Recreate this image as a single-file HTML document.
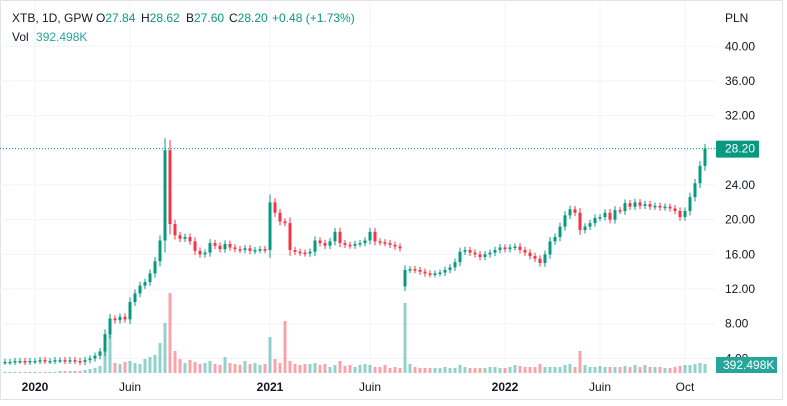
<!DOCTYPE html>
<html><head><meta charset="utf-8"><style>
body{margin:0;background:#fff;}
svg{display:block;font-family:"Liberation Sans",sans-serif;}
</style></head><body>
<svg id="chart" width="787" height="406">
<rect x="0" y="0" width="787" height="406" fill="#fff"/>
<rect x="0.5" y="0.5" width="782" height="399" fill="none" stroke="#e0e3eb"/>
<g id="grid"></g>
<g id="vol"></g>
<g id="candles"></g>
<g id="axes"></g>
<g font-size="12">
<text x="12" y="22" fill="#131722">XTB, 1D, GPW</text>
<text x="96" y="22" fill="#131722">O<tspan fill="#089981">27.84</tspan></text>
<text x="141" y="22" fill="#131722">H<tspan fill="#089981">28.62</tspan></text>
<text x="186" y="22" fill="#131722">B<tspan fill="#089981">27.60</tspan></text>
<text x="229" y="22" fill="#131722">C<tspan fill="#089981">28.20</tspan></text>
<text x="272" y="22" fill="#089981">+0.48 (+1.73%)</text>
<text x="12" y="41" fill="#131722">Vol <tspan fill="#26a69a" dx="4">392.498K</tspan></text>
</g>
<text x="725" y="22" font-size="12" fill="#131722">PLN</text>
</svg>
<script>
const closes=[3.6,3.6,3.7,3.7,3.6,3.7,3.7,3.8,3.7,3.7,3.8,3.8,3.7,3.8,3.7,3.6,3.8,4.0,4.3,4.8,6.8,8.6,8.4,8.8,8.5,10.5,11.5,12.4,12.8,13.8,15.2,17.6,28.0,19.5,18.2,17.8,18.0,17.5,16.4,16.0,16.2,17.3,17.0,16.6,17.2,16.8,16.6,16.5,16.7,16.4,16.5,16.6,16.5,22.0,20.8,19.8,19.6,16.5,16.3,16.2,16.1,16.3,17.6,17.3,17.0,17.5,18.6,17.3,17.1,17.0,17.2,17.3,17.6,18.6,17.5,17.4,17.3,17.1,16.9,16.7,14.2,14.3,14.2,14.0,13.8,13.7,13.8,13.9,14.2,14.5,15.1,16.3,16.5,16.2,16.0,15.7,16.0,16.2,16.5,16.8,16.6,16.8,16.9,16.5,16.2,15.8,15.5,15.0,16.0,17.5,18.0,19.2,20.5,21.2,20.8,18.8,19.2,19.6,20.2,20.3,20.8,20.0,21.1,21.0,21.9,21.5,22.0,21.6,21.8,21.5,21.6,21.4,21.5,21.3,21.0,20.3,21.0,22.6,24.2,26.2,28.2];
const gapIndex=[80];
const gapOpen=[12.3];
const volumes=[1,1,1,1,1,1,1,1,1,1,1,2,2,2,2,2,3,4,5,7,26,40,10,9,11,12,10,9,14,16,18,30,50,80,22,14,10,13,11,9,10,12,9,8,16,10,9,8,12,9,10,8,9,36,14,10,52,12,9,8,9,9,10,8,9,6,8,12,7,8,6,8,9,8,6,6,8,5,6,5,70,9,6,5,5,5,5,5,6,5,5,8,6,5,5,5,5,6,6,5,5,6,8,7,6,6,6,9,6,6,6,6,8,9,6,22,8,6,6,7,6,6,6,6,7,6,8,6,8,6,6,6,5,5,6,7,8,8,9,10,9];
const yTicks=[40,36,32,28,24,20,16,12,8,4];
const timeLabels=["2020","Juin","2021","Juin","2022","Juin","Oct"];
const timeLabelIdx=[6,25,54,73,100,119,136];
const timeBold=[true,false,true,false,true,false,false];
const lastPrice=28.20;
const NS="http://www.w3.org/2000/svg";
function y(p){return 185+(24-p)*8.67;}
function x(i){return 5+i*5;}
function vy(v){return 373-v;}
function mk(tag,attrs,parent){const e=document.createElementNS(NS,tag);for(const k in attrs)e.setAttribute(k,attrs[k]);parent.appendChild(e);return e;}
const grid=document.getElementById('grid'),axes=document.getElementById('axes'),cg=document.getElementById('candles'),vg=document.getElementById('vol');
yTicks.forEach(t=>{
 const l=mk('line',{x1:0,x2:715,y1:y(t),y2:y(t),stroke:'#f0f3fa'},grid);
 
 
 const tx=mk('text',{x:725,y:y(t)+4,'font-size':12,fill:'#131722'},axes);
 tx.textContent=t.toFixed(2);
 
 
});
timeLabels.forEach((s,k)=>{
 const xx=x(timeLabelIdx[k])+(k===2?-5:0);
 const l=mk('line',{x1:xx,x2:xx,y1:0,y2:374,stroke:'#f0f3fa'},grid);
 
 
 const tx=mk('text',{x:xx,y:391,'font-size':12,fill:'#131722','text-anchor':'middle','font-weight':timeBold[k]?'bold':'normal'},axes);
 tx.textContent=s;
 
 
});
closes.forEach((c,i)=>{
 const gi=gapIndex.indexOf(i);
 const o=gi>=0?gapOpen[gi]:(i?closes[i-1]:c);
 const up=c>=o;
 const col=up?'#089981':'#f23645';
 const v=mk('rect',{x:x(i)-1.5,y:vy(volumes[i]),width:3,height:volumes[i],fill:up?'rgba(38,166,154,0.5)':'rgba(242,54,69,0.45)'},vg);
 
 
 const hi=Math.max(o,c)+0.35+Math.abs(c-o)*0.1, lo=Math.min(o,c)-0.35-Math.abs(c-o)*0.1;
 const w=mk('line',{x1:x(i),x2:x(i),y1:y(hi),y2:y(lo),stroke:col,'stroke-width':1},cg);
 
 
 const top=y(Math.max(o,c)),h=Math.max(1.5,y(Math.min(o,c))-top);
 const b=mk('rect',{x:x(i)-1.5,y:top,width:3,height:h,fill:col},cg);
 
 
});
const pl=mk('line',{x1:0,x2:715,y1:y(lastPrice),y2:y(lastPrice),stroke:'#089981','stroke-dasharray':'1,2'},axes);


const pb=mk('rect',{x:716,y:y(lastPrice)-8,width:43,height:17,fill:'#089981',rx:1},axes);


const pt=mk('text',{x:725,y:y(lastPrice)+4,'font-size':12,fill:'#fff'},axes);
pt.textContent=lastPrice.toFixed(2);


const vb=mk('rect',{x:716,y:357,width:61,height:16,fill:'#26a69a'},axes);


const vt=mk('text',{x:723,y:369,'font-size':12,fill:'#fff'},axes);
vt.textContent='392.498K';


</script>
</body></html>
